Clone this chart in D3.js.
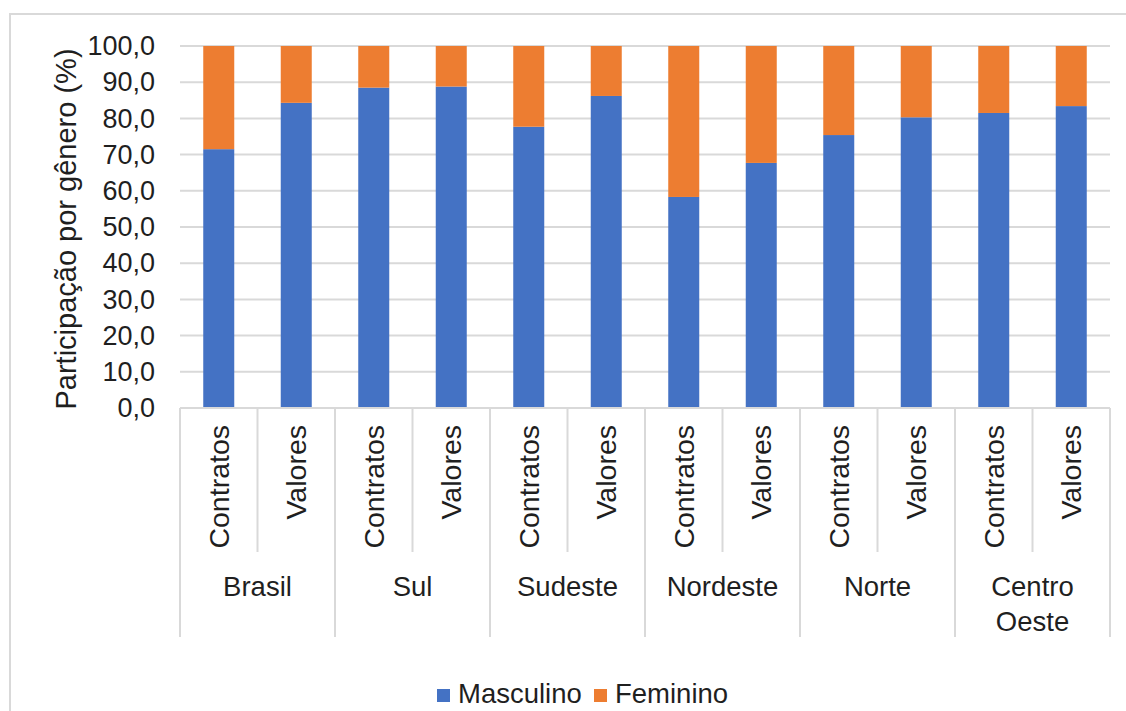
<!DOCTYPE html>
<html>
<head>
<meta charset="utf-8">
<script src="https://cdn.jsdelivr.net/npm/d3@7"></script>
<style>
  html, body { margin: 0; padding: 0; background: #fff; }
  svg { display: block; font-family: "Liberation Sans", Arial, sans-serif; }
</style>
</head>
<body>
<svg id="chart" width="1126" height="711"></svg>
<script>
// Regions and the two measures shown for each
const regions = ["Brasil", "Sul", "Sudeste", "Nordeste", "Norte", "Centro Oeste"];
const measures = ["Contratos", "Valores"];

// Share by gender (%), one value per region/measure pair, in the order above
const masculino = [71.5, 84.3, 88.5, 88.8, 77.7, 86.2, 58.3, 67.7, 75.4, 80.3, 81.5, 83.4];
const feminino  = [28.5, 15.7, 11.5, 11.2, 22.3, 13.8, 41.7, 32.3, 24.6, 19.7, 18.5, 16.6];

const seriesNames = ["Masculino", "Feminino"];
const seriesColors = ["#4472C4", "#ED7D31"];
const yTicks = [0, 10, 20, 30, 40, 50, 60, 70, 80, 90, 100];

const rows = [];
regions.forEach((r, i) => measures.forEach((m, j) => {
  const k = i * measures.length + j;
  rows.push({ key: r + "|" + m, region: r, measure: m, Masculino: masculino[k], Feminino: feminino[k] });
}));

const svg = d3.select("#chart");
const textColor = "#1f1f1f";
const gridColor = "#d9d9d9";
const fontSize = 27;

// Chart frame (left and top edges)
svg.append("path")
  .attr("d", "M10,720 V14 H1130")
  .attr("fill", "none").attr("stroke", gridColor).attr("stroke-width", 2);

const plot = { left: 180, right: 1110, top: 46, bottom: 408 };

const x = d3.scaleBand()
  .domain(rows.map(d => d.key))
  .range([plot.left, plot.right])
  .paddingInner(0.6)
  .paddingOuter(0.3);

const y = d3.scaleLinear().domain([0, 100]).range([plot.bottom, plot.top]);

const ptBR = d3.formatLocale({ decimal: ",", thousands: ".", grouping: [3], currency: ["R$", ""] });
const fmt = ptBR.format(".1f");

// Horizontal gridlines
svg.append("g")
  .selectAll("line")
  .data(yTicks.filter(t => t > 0))
  .join("line")
  .attr("x1", plot.left).attr("x2", plot.right)
  .attr("y1", d => y(d)).attr("y2", d => y(d))
  .attr("stroke", gridColor).attr("stroke-width", 2);

// Y axis labels
const yAxis = svg.append("g")
  .attr("transform", `translate(${plot.left},0)`)
  .call(d3.axisLeft(y).tickValues(yTicks).tickFormat(fmt).tickSize(0).tickPadding(25));
yAxis.select(".domain").remove();
yAxis.selectAll("text")
  .attr("fill", textColor)
  .style("font-size", fontSize + "px")
  .style("font-family", "'Liberation Sans', Arial, sans-serif");

// Y axis title
svg.append("text")
  .attr("transform", "translate(76,229) rotate(-90)")
  .attr("text-anchor", "middle")
  .attr("fill", textColor)
  .style("font-size", "29px")
  .text("Participação por gênero (%)");

// Stacked bars
const stack = d3.stack().keys(seriesNames);
const stacked = stack(rows);

svg.append("g")
  .selectAll("g")
  .data(stacked)
  .join("g")
  .attr("fill", (d, i) => seriesColors[i])
  .selectAll("rect")
  .data(d => d)
  .join("rect")
  .attr("x", d => x(d.data.key))
  .attr("width", x.bandwidth())
  .attr("y", d => y(d[1]))
  .attr("height", d => y(d[0]) - y(d[1]));

// Category axis: baseline and separators
const step = x.step();
const axisG = svg.append("g").attr("stroke", gridColor).attr("stroke-width", 2);
axisG.append("line")
  .attr("x1", plot.left).attr("x2", plot.right)
  .attr("y1", plot.bottom).attr("y2", plot.bottom);

const groupWidth = step * measures.length;
const groupEdges = d3.range(regions.length + 1).map(i => plot.left + i * groupWidth);
axisG.selectAll("line.group")
  .data(groupEdges)
  .join("line")
  .attr("class", "group")
  .attr("x1", d => d).attr("x2", d => d)
  .attr("y1", plot.bottom).attr("y2", 637);

axisG.selectAll("line.sub")
  .data(regions)
  .join("line")
  .attr("class", "sub")
  .attr("x1", (d, i) => plot.left + i * groupWidth + step)
  .attr("x2", (d, i) => plot.left + i * groupWidth + step)
  .attr("y1", plot.bottom).attr("y2", 552);

// Measure labels (rotated)
svg.append("g")
  .selectAll("text")
  .data(rows)
  .join("text")
  .attr("transform", d => `translate(${x(d.key) + x.bandwidth() / 2 + 10},425) rotate(-90)`)
  .attr("text-anchor", "end")
  .attr("fill", textColor)
  .style("font-size", "28.5px")
  .text(d => d.measure);

// Region labels (wrapped onto separate lines)
const regionG = svg.append("g")
  .selectAll("text")
  .data(regions)
  .join("text")
  .attr("text-anchor", "middle")
  .attr("fill", textColor)
  .style("font-size", "27.5px")
  .attr("x", (d, i) => plot.left + (i + 0.5) * groupWidth)
  .attr("y", 596);
regionG.each(function (d) {
  const parts = d.split(" ");
  const t = d3.select(this);
  const cx = t.attr("x");
  parts.forEach((p, j) => {
    t.append("tspan").attr("x", cx).attr("dy", j === 0 ? 0 : 35).text(p);
  });
});

// Legend
const legendItems = [
  { name: seriesNames[0], color: seriesColors[0], x: 437 },
  { name: seriesNames[1], color: seriesColors[1], x: 594 }
];
const legend = svg.append("g");
legend.selectAll("rect")
  .data(legendItems)
  .join("rect")
  .attr("x", d => d.x).attr("y", 689)
  .attr("width", 13).attr("height", 13)
  .attr("fill", d => d.color);
legend.selectAll("text")
  .data(legendItems)
  .join("text")
  .attr("x", d => d.x + 21).attr("y", 703)
  .attr("fill", textColor)
  .style("font-size", "27.5px")
  .text(d => d.name);
</script>
</body>
</html>
